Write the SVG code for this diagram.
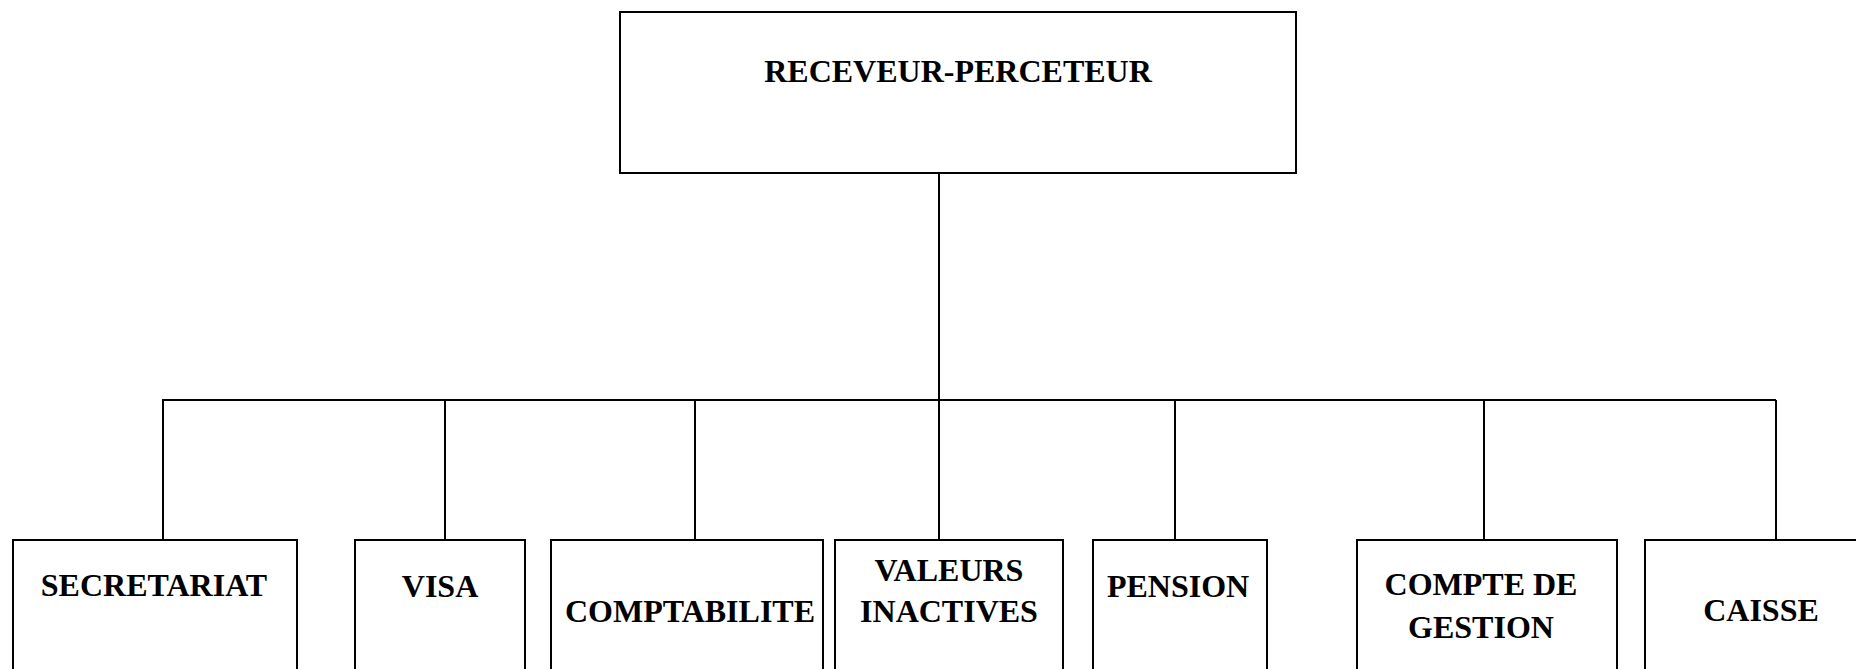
<svg xmlns="http://www.w3.org/2000/svg" width="1856" height="669" viewBox="0 0 1856 669">
<style>
.box{fill:#fff;stroke:#000;stroke-width:2}
.conn{fill:none;stroke:#000;stroke-width:2}
.lbl{font-family:"Liberation Serif","Times New Roman",serif;font-weight:bold;font-size:32px;fill:#000;text-anchor:middle}
</style>
<rect width="1856" height="669" fill="#fff"/>
<g id="connectors">
<line class="conn" x1="939" y1="173" x2="939" y2="400"/>
<line class="conn" x1="162" y1="400" x2="1776" y2="400"/>
<line class="conn" x1="163" y1="400" x2="163" y2="540"/>
<line class="conn" x1="445" y1="400" x2="445" y2="540"/>
<line class="conn" x1="695" y1="400" x2="695" y2="540"/>
<line class="conn" x1="939" y1="400" x2="939" y2="540"/>
<line class="conn" x1="1175" y1="400" x2="1175" y2="540"/>
<line class="conn" x1="1484" y1="400" x2="1484" y2="540"/>
<line class="conn" x1="1776" y1="400" x2="1776" y2="540"/>
</g>
<g id="receveur-percepteur">
<rect class="box" x="620" y="12" width="676" height="161"/>
<text class="lbl" x="958" y="82">RECEVEUR-PERCETEUR</text>
</g>
<g id="secretariat">
<rect class="box" x="13" y="540" width="284" height="150"/>
<text class="lbl" x="154" y="596">SECRETARIAT</text>
</g>
<g id="visa">
<rect class="box" x="355" y="540" width="170" height="150"/>
<text class="lbl" x="440" y="597">VISA</text>
</g>
<g id="comptabilite">
<rect class="box" x="551" y="540" width="272" height="150"/>
<text class="lbl" x="690" y="622">COMPTABILITE</text>
</g>
<g id="valeurs-inactives">
<rect class="box" x="835" y="540" width="228" height="150"/>
<text class="lbl" x="949" y="581">VALEURS</text>
<text class="lbl" x="949" y="622">INACTIVES</text>
</g>
<g id="pension">
<rect class="box" x="1093" y="540" width="174" height="150"/>
<text class="lbl" x="1178" y="597">PENSION</text>
</g>
<g id="compte-de-gestion">
<rect class="box" x="1357" y="540" width="260" height="150"/>
<text class="lbl" x="1481" y="595">COMPTE DE</text>
<text class="lbl" x="1481" y="638">GESTION</text>
</g>
<g id="caisse">
<rect class="box" x="1645" y="540" width="232" height="150"/>
<text class="lbl" x="1761" y="621">CAISSE</text>
</g>
</svg>
